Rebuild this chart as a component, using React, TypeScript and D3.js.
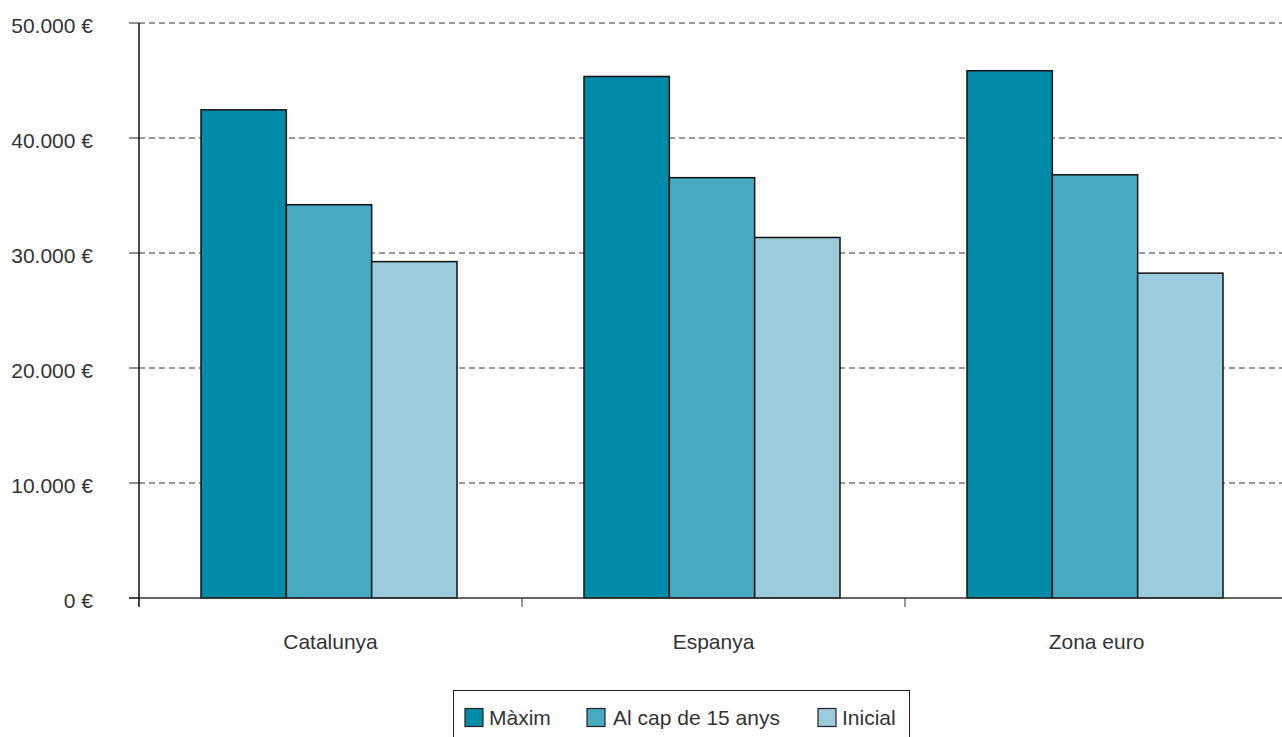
import React from "react";
import * as d3 from "d3";

const categories = ["Catalunya", "Espanya", "Zona euro"];
const seriesNames = ["Màxim", "Al cap de 15 anys", "Inicial"];
const maxim = [42450, 45350, 45850];
const alCap15 = [34200, 36550, 36800];
const inicial = [29250, 31350, 28250];
const yTicks = [0, 10000, 20000, 30000, 40000, 50000];
const colors = ["#008ba8", "#46aac0", "#9ccbdc"];

const W = 1282;
const H = 737;
const M = { left: 139, right: 1288, top: 23, bottom: 598 };

const fmt = (v: number) => d3.format(",")(v).replace(/,/g, ".") + " €";

export default function App() {
  const series = [maxim, alCap15, inicial];
  const x = d3.scaleBand<string>().domain(categories).range([M.left, M.right]).padding(0);
  const inner = d3
    .scaleBand<number>()
    .domain([0, 1, 2])
    .range([62, x.bandwidth() - 65])
    .padding(0);
  const y = d3.scaleLinear().domain([0, 50000]).range([M.bottom, M.top]);
  const font = "'Liberation Sans', Arial, Helvetica, sans-serif";
  const fs = 21;
  const textFill = "#333";
  const legendItems = [
    { sx: 465, tx: 489 },
    { sx: 587, tx: 613 },
    { sx: 818, tx: 842 },
  ];
  return (
    <svg
      width={W}
      height={H}
      style={{ position: "absolute", left: 0, top: 0, background: "#fff" }}
      fontFamily={font}
    >
      {yTicks
        .filter((t) => t > 0)
        .map((t) => (
          <line
            key={"g" + t}
            x1={M.left}
            x2={W}
            y1={y(t)}
            y2={y(t)}
            stroke="#333"
            strokeWidth={1}
            strokeDasharray="6,4"
          />
        ))}
      {yTicks.map((t) => (
        <g key={"t" + t}>
          <line x1={M.left - 10} x2={M.left} y1={y(t)} y2={y(t)} stroke="#222" strokeWidth={1} />
          <text x={93} y={y(t) + 10} textAnchor="end" fontSize={fs} fill={textFill}>
            {fmt(t)}
          </text>
        </g>
      ))}
      {categories.map((c, ci) => (
        <g key={c} transform={`translate(${x(c)},0)`}>
          {series.map((s, si) => (
            <rect
              key={si}
              x={inner(si)}
              y={y(s[ci])}
              width={inner.bandwidth()}
              height={y(0) - y(s[ci])}
              fill={colors[si]}
              stroke="#111"
              strokeWidth={1.5}
            />
          ))}
        </g>
      ))}
      <line x1={M.left - 10} x2={W} y1={y(0)} y2={y(0)} stroke="#333" strokeWidth={1.5} />
      <line x1={M.left} x2={M.left} y1={M.top} y2={y(0) + 9} stroke="#111" strokeWidth={1.5} />
      {categories.map((c) => (
        <line
          key={"xt" + c}
          x1={x(c)! + x.bandwidth()}
          x2={x(c)! + x.bandwidth()}
          y1={y(0)}
          y2={y(0) + 9}
          stroke="#333"
          strokeWidth={1}
        />
      ))}
      {categories.map((c) => (
        <text
          key={"xl" + c}
          x={x(c)! + x.bandwidth() / 2}
          y={649}
          textAnchor="middle"
          fontSize={fs}
          fill={textFill}
        >
          {c}
        </text>
      ))}
      <rect x={453.5} y={690.5} width={456} height={60} fill="#fff" stroke="#222" strokeWidth={1} />
      {seriesNames.map((n, i) => (
        <g key={n}>
          <rect
            x={legendItems[i].sx}
            y={708.5}
            width={18}
            height={18}
            fill={colors[i]}
            stroke="#222"
            strokeWidth={1.2}
          />
          <text x={legendItems[i].tx} y={725} fontSize={fs} fill={textFill}>
            {n}
          </text>
        </g>
      ))}
    </svg>
  );
}
